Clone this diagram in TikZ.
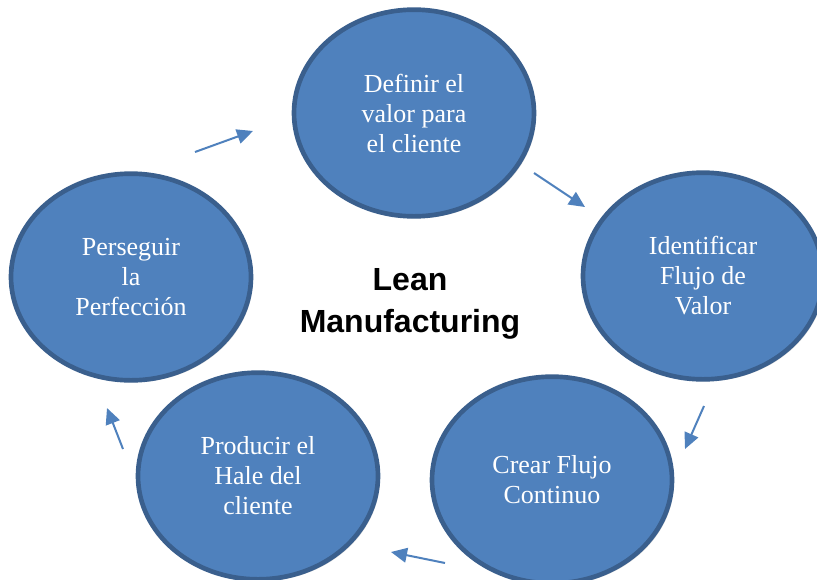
\documentclass[tikz,border=0pt]{standalone}
\usepackage{fontspec}
\setmainfont{Liberation Serif}
\setsansfont{Liberation Sans}
\usetikzlibrary{shapes.geometric,arrows.meta,shadows}

\definecolor{relleno}{HTML}{4F81BD}
\definecolor{borde}{HTML}{3A5F8D}

\tikzset{
  etapa/.style={ellipse, draw=borde, line width=3.5pt, fill=relleno,
    minimum width=180pt, minimum height=155pt, inner sep=0pt,
    text=white, align=center, font=\fontsize{19.5}{22.5}\selectfont,
    drop shadow={shadow xshift=1.5pt, shadow yshift=-1.5pt, opacity=0.3}},
  flecha/.style={draw=relleno, line width=1.5pt, -{Triangle[length=12pt,width=11pt]}}
}

\begin{document}
\begin{tikzpicture}[x=0.75pt,y=-0.75pt]
    \useasboundingbox (0,0) rectangle (817,579);
    \clip (0,0) rectangle (817,579);
    % etapas: 1 arriba, 2 derecha, 3 abajo dcha, 4 abajo izda, 5 izquierda
    \foreach \c/\t [count=\i from 1] in {
      {414,113}/{Definir el\\valor para\\el cliente},
      {703,276}/{Identificar\\Flujo de\\Valor},
      {552,480}/{Crear Flujo\\Continuo},
      {258,476}/{Producir el\\Hale del\\cliente},
      {131,277}/{Perseguir\\la\\Perfección}}
      {\node[etapa] (e\i) at (\c) {\t};}
    \node[font=\sffamily\bfseries\fontsize{24}{31}\selectfont, align=center] (lean) at (410,304) {Lean\\Manufacturing};
    % extremos de las flechas
    \def\desde{(195,152),(534,173),(704,406),(445,563),(123,449)}
    \def\hasta{(253,131),(585,207),(685,449),(391,552),(107,408)}
    \foreach \u [count=\i from 1] in \desde {\path \u coordinate (s\i);}
    \foreach \u [count=\i from 1] in \hasta {\path \u coordinate (t\i);}
    \foreach \i in {1,...,5} {\draw[flecha] (s\i) -- (t\i);}
\end{tikzpicture}
\end{document}
